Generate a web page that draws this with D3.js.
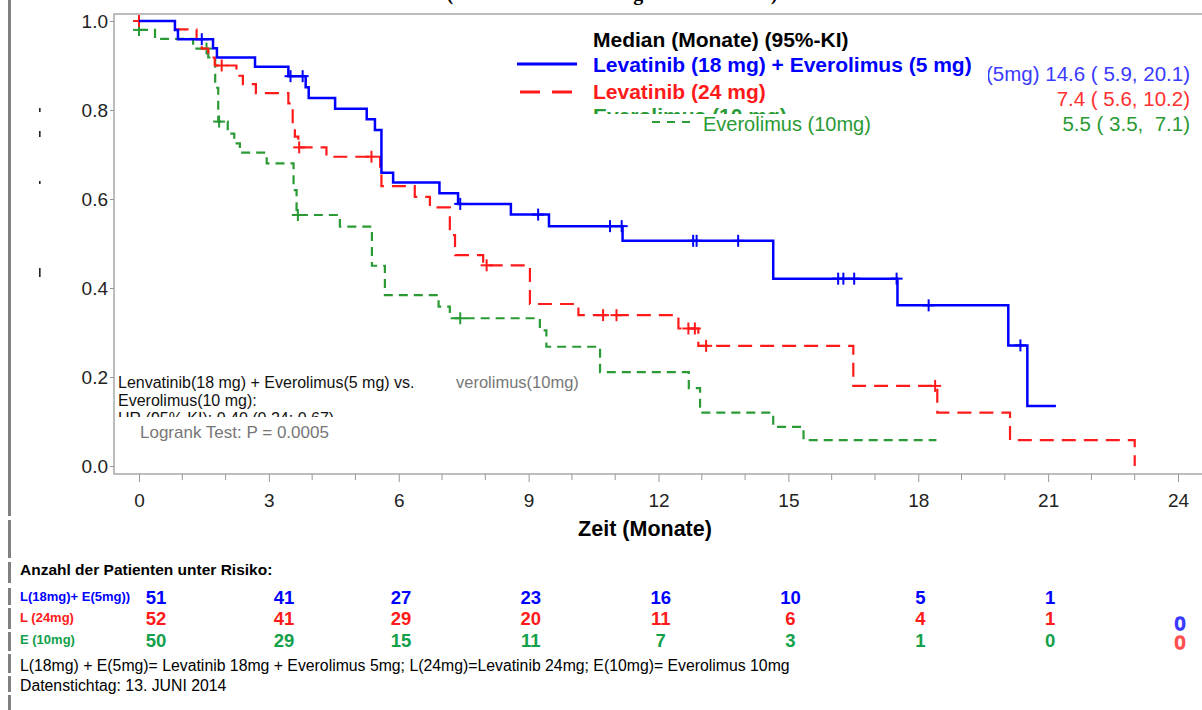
<!DOCTYPE html>
<html>
<head>
<meta charset="utf-8">
<script src="https://cdn.jsdelivr.net/npm/d3@7"></script>
<style>
  body { margin: 0; background: #fff; }
  text { font-family: "Liberation Sans", Arial, sans-serif; white-space: pre; }
</style>
</head>
<body>
<div class="vis-area"></div>
<script>
var width = 1202;
var height = 710;

// Kaplan-Meier steps (months, survival after the step)
var blueTimes = [0, 0.83, 0.9, 1.71, 1.8, 2.68, 3.45, 3.85, 3.92, 4.53, 5.26, 5.45, 5.6, 5.87, 6.94, 7.37, 8.59, 9.47, 11.17, 14.65, 17.52, 20.08, 20.52, 21.18];
var blueSurv  = [1.0, 0.980, 0.959, 0.939, 0.918, 0.897, 0.876, 0.851, 0.827, 0.803, 0.779, 0.755, 0.659, 0.637, 0.613, 0.589, 0.565, 0.539, 0.506, 0.421, 0.361, 0.271, 0.135, 0.135];
var blueCens  = [1.45, 3.5, 3.78, 7.42, 9.22, 10.88, 11.15, 12.8, 12.88, 13.84, 16.15, 16.27, 16.52, 17.5, 18.24, 20.36];

var redTimes = [0, 0.83, 1.33, 1.45, 1.6, 1.75, 2.25, 2.4, 2.7, 3.45, 3.55, 3.6, 3.68, 4.33, 5.57, 5.6, 6.37, 6.72, 7.18, 7.3, 7.95, 9.03, 10.15, 12.46, 12.92, 16.5, 18.44, 20.12, 23.0];
var redSurv  = [1.0, 0.981, 0.959, 0.938, 0.918, 0.900, 0.877, 0.858, 0.838, 0.815, 0.77, 0.74, 0.716, 0.695, 0.661, 0.629, 0.605, 0.581, 0.519, 0.474, 0.451, 0.364, 0.339, 0.309, 0.270, 0.180, 0.120, 0.058, 0];
var redCens  = [0, 1.91, 3.7, 5.37, 8.03, 10.72, 11.03, 12.69, 12.84, 13.1, 18.39];

var greenTimes = [0, 0.37, 1.25, 1.6, 1.76, 1.83, 2.05, 2.2, 2.33, 2.95, 3.57, 3.64, 4.64, 5.38, 5.68, 6.92, 7.18, 9.26, 9.41, 10.65, 12.7, 12.96, 14.65, 15.35, 18.42];
var greenSurv  = [0.98, 0.960, 0.938, 0.918, 0.85, 0.774, 0.747, 0.725, 0.704, 0.680, 0.62, 0.564, 0.538, 0.45, 0.384, 0.358, 0.332, 0.305, 0.268, 0.211, 0.175, 0.120, 0.088, 0.058, 0.058];
var greenCens  = [0, 1.56, 1.85, 3.67, 7.42];

var xTicks = [0, 3, 6, 9, 12, 15, 18, 21, 24];
var yTicks = [0, 0.2, 0.4, 0.6, 0.8, 1.0];

// Patienten unter Risiko
var riskTimes = [0, 3, 6, 9, 12, 15, 18, 21];
var riskBlue  = [51, 41, 27, 23, 16, 10, 5, 1];
var riskRed   = [52, 41, 29, 20, 11, 6, 4, 1];
var riskGreen = [50, 29, 15, 11, 7, 3, 1, 0];
var riskLate  = [0, 0];   // blue and red at 24 months, printed one row lower
var riskLabels = ["L(18mg)+ E(5mg))", "L (24mg)", "E (10mg)"];

var medianLabels = ["14.6 ( 5.9, 20.1)", "7.4 ( 5.6, 10.2)", "5.5 ( 3.5,  7.1)"];

var blue = "#0000ff", red = "#ff1a1a", green = "#2a9a35", tableGreen = "#12a04a";

var svg = d3.select('.vis-area')
  .append('svg')
  .attr('width', width)
  .attr('height', height);

var defs = svg.append('defs');
function clipRect(id, x, y, w, h) {
  defs.append('clipPath').attr('id', id)
    .append('rect').attr('x', x).attr('y', y).attr('width', w).attr('height', h);
}

var x = d3.scaleLinear().domain([0, 24]).range([139, 1178]);
var y = d3.scaleLinear().domain([0, 1]).range([466, 21]);

// clipped title remnant at the very top
clipRect('clipTitle', 0, 0, width, 13);
svg.append('text')
  .attr('x', 612).attr('y', 0)
  .attr('text-anchor', 'middle')
  .attr('clip-path', 'url(#clipTitle)')
  .style('font-family', '"Liberation Serif", serif')
  .style('font-weight', 'bold')
  .style('font-size', '20px')
  .text('(PFS nach Auswertung des Prüfarztes)');

// left margin bar
var barSegs = [[0, 516], [520, 558], [562, 583], [588, 605], [608, 629], [632, 651], [654, 673], [676, 692], [695, 710]];
svg.selectAll('.lbar').data(barSegs).enter().append('rect')
  .attr('class', 'lbar')
  .attr('x', 8).attr('width', 3)
  .attr('y', d => d[0]).attr('height', d => d[1] - d[0])
  .attr('fill', '#808080');

// plot frame
svg.append('path')
  .attr('d', 'M1210,14 H114 V474 H1210')
  .attr('fill', 'none')
  .attr('stroke', '#a8a8a8')
  .attr('stroke-width', 1.5);

// y axis
var yAxis = svg.append('g').attr('transform', 'translate(114,0)')
  .call(d3.axisLeft(y).tickValues(yTicks).tickFormat(d3.format('.1f')).tickSize(4).tickPadding(2));
yAxis.select('.domain').remove();
yAxis.selectAll('line').attr('stroke', '#999');
yAxis.selectAll('text').style('font-size', '19px').attr('fill', '#222');

// x axis
var xAxis = svg.append('g').attr('transform', 'translate(0,474)')
  .call(d3.axisBottom(x).tickValues(xTicks).tickSize(8).tickPadding(12));
xAxis.select('.domain').remove();
xAxis.selectAll('line').attr('stroke', '#999');
xAxis.selectAll('text').style('font-size', '19px').attr('fill', '#222');
svg.append('g').selectAll('line').data(d3.range(0, 25).filter(d => d % 3 !== 0)).enter()
  .append('line')
  .attr('x1', d => x(d)).attr('x2', d => x(d))
  .attr('y1', 474).attr('y2', 480)
  .attr('stroke', '#999');

svg.append('text')
  .attr('x', 645).attr('y', 536)
  .attr('text-anchor', 'middle')
  .style('font-size', '21.5px').style('font-weight', 'bold')
  .text('Zeit (Monate)');

// clipped y label
clipRect('clipYLab', 30, 338, 30, 32);
svg.append('text')
  .attr('transform', 'translate(52,367) rotate(-90)')
  .attr('clip-path', 'url(#clipYLab)')
  .style('font-size', '19px')
  .text('Progressionsfreies Überleben');
var fragments = [[108, 112], [131, 137], [181, 184], [268, 277]];
svg.selectAll('.frag').data(fragments).enter().append('rect')
  .attr('x', 39).attr('width', 1.6)
  .attr('y', d => d[0]).attr('height', d => d[1] - d[0])
  .attr('fill', '#222');

// curves
var line = d3.line()
  .x(d => x(d[0]))
  .y(d => y(d[1]))
  .curve(d3.curveStepAfter);

function survAt(times, surv, t) {
  var s = surv[0];
  for (var i = 0; i < times.length; i++) {
    if (times[i] <= t) s = surv[i];
  }
  return s;
}

function drawCurve(times, surv, cens, color, dash, sw) {
  var pts = times.map((t, i) => [t, surv[i]]);
  svg.append('path')
    .datum(pts)
    .attr('d', line)
    .attr('fill', 'none')
    .attr('stroke', color)
    .attr('stroke-width', sw)
    .attr('stroke-dasharray', dash);
  var g = svg.append('g');
  cens.forEach(function(t) {
    var cx = x(t), cy = y(survAt(times, surv, t));
    g.append('line').attr('x1', cx).attr('x2', cx).attr('y1', cy - 6).attr('y2', cy + 6)
      .attr('stroke', color).attr('stroke-width', 2);
    g.append('line').attr('x1', cx - 6).attr('x2', cx + 6).attr('y1', cy).attr('y2', cy)
      .attr('stroke', color).attr('stroke-width', 2);
  });
}

drawCurve(greenTimes, greenSurv, greenCens, green, '9,6', 2.2);
drawCurve(redTimes, redSurv, redCens, red, '14,8', 2.2);
drawCurve(blueTimes, blueSurv, blueCens, blue, null, 2.5);

// legend
var legendFont = '21px';
svg.append('text').attr('x', 593).attr('y', 47)
  .style('font-size', legendFont).style('font-weight', 'bold')
  .text('Median (Monate) (95%-KI)');
svg.append('line').attr('x1', 517).attr('x2', 577).attr('y1', 64).attr('y2', 64)
  .attr('stroke', blue).attr('stroke-width', 3);
svg.append('text').attr('x', 593).attr('y', 72)
  .style('font-size', legendFont).style('font-weight', 'bold').attr('fill', blue)
  .text('Levatinib (18 mg) + Everolimus (5 mg)');
svg.append('line').attr('x1', 520).attr('x2', 572).attr('y1', 92).attr('y2', 92)
  .attr('stroke', red).attr('stroke-width', 3).attr('stroke-dasharray', '20,12');
svg.append('text').attr('x', 593).attr('y', 99)
  .style('font-size', legendFont).style('font-weight', 'bold').attr('fill', red)
  .text('Levatinib (24 mg)');
clipRect('clipGreenLeg', 580, 100, 300, 14);
svg.append('text').attr('x', 593).attr('y', 123)
  .attr('clip-path', 'url(#clipGreenLeg)')
  .style('font-size', legendFont).style('font-weight', 'bold').attr('fill', green)
  .text('Everolimus (10 mg)');
svg.append('line').attr('x1', 652).attr('x2', 692).attr('y1', 122).attr('y2', 122)
  .attr('stroke', green).attr('stroke-width', 2).attr('stroke-dasharray', '8,7');
svg.append('text').attr('x', 703).attr('y', 131)
  .style('font-size', '20px').attr('fill', green)
  .text('Everolimus (10mg)');

// medians column
clipRect('clipMed', 988, 55, 220, 90);
svg.append('text').attr('x', 1190).attr('y', 81)
  .attr('text-anchor', 'end').attr('clip-path', 'url(#clipMed)')
  .style('font-size', '20.5px').attr('fill', '#3a3aff')
  .text('(5mg) ' + medianLabels[0]);
svg.append('text').attr('x', 1190).attr('y', 106)
  .attr('text-anchor', 'end')
  .style('font-size', '20.5px').attr('fill', '#ff3030')
  .text(medianLabels[1]);
svg.append('text').attr('x', 1190).attr('y', 131)
  .attr('text-anchor', 'end')
  .style('font-size', '20.5px').attr('fill', green)
  .text(medianLabels[2]);

// HR annotation block
clipRect('clipLog', 100, 426, 400, 20);
svg.append('text').attr('x', 140).attr('y', 438)
  .attr('clip-path', 'url(#clipLog)')
  .style('font-size', '17px').attr('fill', '#777')
  .text('Logrank Test: P = 0.0005');
clipRect('clipHR', 100, 360, 400, 57);
var hrLines = ['Lenvatinib(18 mg) + Everolimus(5 mg) vs.', 'Everolimus(10 mg):', 'HR (95% KI): 0.40 (0.24; 0.67)'];
svg.append('g').attr('clip-path', 'url(#clipHR)')
  .selectAll('text').data(hrLines).enter().append('text')
  .attr('x', 118).attr('y', (d, i) => 388 + i * 18)
  .style('font-size', '16px').attr('fill', '#111')
  .text(d => d);
clipRect('clipEv', 456, 370, 124, 24);
svg.append('text').attr('x', 445).attr('y', 388)
  .attr('clip-path', 'url(#clipEv)')
  .style('font-size', '16.5px').attr('fill', '#777')
  .text('Everolimus(10mg):');

// risk table
var colX = d3.scaleLinear().domain([0, 3, 6, 24]).range([156, 284, 401, 1180]);

svg.append('text').attr('x', 20).attr('y', 575)
  .style('font-size', '15.5px').style('font-weight', 'bold')
  .text('Anzahl der Patienten unter Risiko:');

var rows = [
  {label: riskLabels[0], values: riskBlue, color: blue, y: 604},
  {label: riskLabels[1], values: riskRed, color: red, y: 625},
  {label: riskLabels[2], values: riskGreen, color: tableGreen, y: 647}
];
rows.forEach(function(r) {
  svg.append('text').attr('x', 20).attr('y', r.y - 3)
    .style('font-size', '13px').style('font-weight', 'bold')
    .attr('fill', r.color)
    .text(r.label);
  svg.append('g').selectAll('text').data(r.values).enter().append('text')
    .attr('x', (d, i) => colX(riskTimes[i]))
    .attr('y', r.y)
    .attr('text-anchor', 'middle')
    .style('font-size', '18.5px').style('font-weight', 'bold')
    .attr('fill', r.color)
    .text(d => d);
});
svg.append('g').selectAll('text').data(riskLate).enter().append('text')
  .attr('x', colX(24))
  .attr('y', (d, i) => 630 + i * 19)
  .attr('text-anchor', 'middle')
  .style('font-size', '19px')
  .attr('fill', 'none')
  .attr('stroke', (d, i) => i === 0 ? '#3a3aff' : '#ff5050')
  .attr('stroke-width', 1.6)
  .text(d => d);

svg.append('text').attr('x', 20).attr('y', 671)
  .style('font-size', '15.8px')
  .text('L(18mg) + E(5mg)= Levatinib 18mg + Everolimus 5mg; L(24mg)=Levatinib 24mg; E(10mg)= Everolimus 10mg');
svg.append('text').attr('x', 20).attr('y', 691)
  .style('font-size', '15.8px')
  .text('Datenstichtag: 13. JUNI 2014');
</script>
</body>
</html>
